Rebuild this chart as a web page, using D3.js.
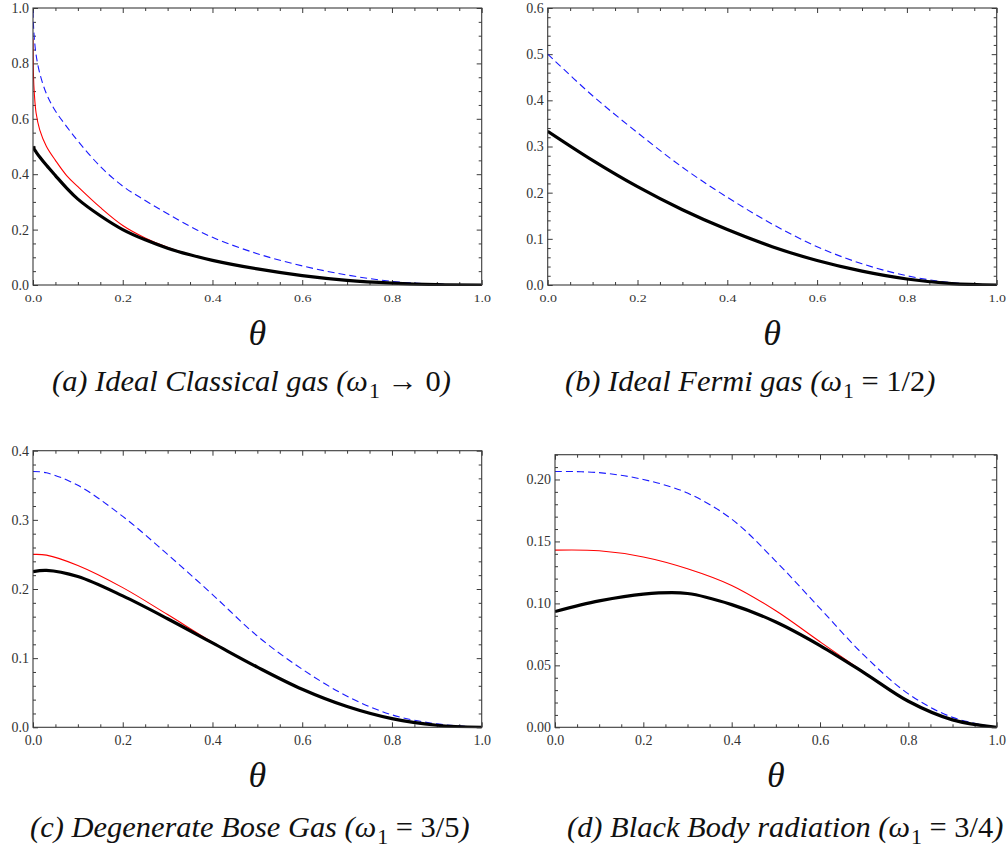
<!DOCTYPE html>
<html>
<head>
<meta charset="utf-8">
<script src="https://cdn.jsdelivr.net/npm/d3@7"></script>
</head>
<body style="margin:0">
<svg id="fig" width="1007" height="845"></svg>
<script>
// ---------- data (theta on x, one array per curve) ----------

// (a) ideal classical gas
const thetaA = [0, 0.001, 0.003, 0.007, 0.015, 0.03, 0.05, 0.075, 0.1, 0.15, 0.2, 0.25, 0.3, 0.35, 0.4, 0.5, 0.6, 0.7, 0.8, 0.9, 1.0];
const aLower = [0.5, 0.497, 0.49, 0.48, 0.462, 0.432, 0.395, 0.35, 0.31, 0.25, 0.2, 0.163, 0.133, 0.109, 0.089, 0.058, 0.034, 0.017, 0.007, 0.0015, 0];
const aMiddle = [0.89, 0.76, 0.69, 0.62, 0.56, 0.5, 0.45, 0.395, 0.355, 0.28, 0.215, 0.17, 0.136, 0.11, 0.089, 0.058, 0.034, 0.017, 0.007, 0.0015, 0];
const aUpper = [0.99, 0.94, 0.89, 0.83, 0.765, 0.69, 0.628, 0.572, 0.52, 0.428, 0.357, 0.305, 0.257, 0.212, 0.172, 0.113, 0.069, 0.036, 0.013, 0.003, 0];

// (b) ideal Fermi gas
const thetaB = [0, 0.1, 0.2, 0.3, 0.4, 0.5, 0.6, 0.7, 0.8, 0.9, 1.0];
const bLower = [0.333, 0.27, 0.213, 0.163, 0.12, 0.083, 0.053, 0.03, 0.013, 0.003, 0];
const bUpper = [0.5, 0.41, 0.33, 0.255, 0.19, 0.132, 0.083, 0.046, 0.02, 0.005, 0];

// (c) degenerate Bose gas
const thetaC = [0, 0.03, 0.1, 0.2, 0.3, 0.4, 0.5, 0.6, 0.7, 0.8, 0.9, 1.0];
const cLower = [0.225, 0.227, 0.218, 0.19, 0.157, 0.122, 0.087, 0.055, 0.03, 0.0125, 0.003, 0];
const cMiddle = [0.25, 0.249, 0.234, 0.202, 0.163, 0.123, 0.087, 0.055, 0.03, 0.0125, 0.003, 0];
const cUpper = [0.37, 0.368, 0.35, 0.305, 0.25, 0.192, 0.132, 0.084, 0.045, 0.018, 0.005, 0];

// (d) black body radiation
const thetaD = [0, 0.1, 0.2, 0.3, 0.4, 0.5, 0.6, 0.7, 0.8, 0.9, 1.0];
const dLower = [0.0934, 0.102, 0.1075, 0.108, 0.099, 0.085, 0.066, 0.044, 0.021, 0.006, 0];
const dMiddle = [0.143, 0.1425, 0.1375, 0.128, 0.1145, 0.094, 0.069, 0.0445, 0.021, 0.006, 0];
const dUpper = [0.2065, 0.2055, 0.2, 0.189, 0.168, 0.134, 0.096, 0.058, 0.027, 0.008, 0];

// axis tick values
const xMajorTicks = [0, 0.2, 0.4, 0.6, 0.8, 1.0];
const yMajorA = [0, 0.2, 0.4, 0.6, 0.8, 1.0];
const yMajorB = [0, 0.1, 0.2, 0.3, 0.4, 0.5, 0.6];
const yMajorC = [0, 0.1, 0.2, 0.3, 0.4];
const yMajorD = [0, 0.05, 0.10, 0.15, 0.20];

// captions: [text, kind] where kind is it (italic text), mi (math italic), sub (subscript), rm (upright)
const captionA = [["(a) Ideal Classical gas (", "it"], ["ω", "mi"], ["1", "sub"], [" → 0", "rm"], [")", "it"]];
const captionB = [["(b) Ideal Fermi gas (", "it"], ["ω", "mi"], ["1", "sub"], [" = 1/2", "rm"], [")", "it"]];
const captionC = [["(c) Degenerate Bose Gas (", "it"], ["ω", "mi"], ["1", "sub"], [" = 3/5", "rm"], [")", "it"]];
const captionD = [["(d) Black Body radiation (", "it"], ["ω", "mi"], ["1", "sub"], [" = 3/4", "rm"], [")", "it"]];
const axisTitle = "θ";

// ---------- layout ----------
const range = (a, b, s) => d3.range(Math.round(a / s), Math.round(b / s) + 1).map(i => +(i * s).toFixed(4));
const minorsOf = (all, majors) => all.filter(v => !majors.some(m => Math.abs(m - v) < 1e-9));

const panels = [
  { box: [33, 8, 481.7, 285], yMax: 1.0, yMajor: yMajorA, yMinor: range(0, 1.0, 0.05), yFmt: ".1f", squash: true,
    theta: thetaA, series: [["upper", aUpper], ["middle", aMiddle], ["lower", aLower]],
    caption: captionA, capX: 52, capY: 391, titleY: 345 },
  { box: [547.7, 8, 996.7, 285], yMax: 0.6, yMajor: yMajorB, yMinor: range(0, 0.6, 0.02), yFmt: ".1f", squash: true,
    theta: thetaB, series: [["upper", bUpper], ["lower", bLower]],
    caption: captionB, capX: 565, capY: 391, titleY: 345 },
  { box: [33, 450.7, 481.7, 727.3], yMax: 0.4, yMajor: yMajorC, yMinor: range(0, 0.4, 0.02), yFmt: ".1f", squash: false,
    theta: thetaC, series: [["upper", cUpper], ["middle", cMiddle], ["lower", cLower]],
    caption: captionC, capX: 30, capY: 837, titleY: 787 },
  { box: [555, 454.7, 996.7, 727.3], yMax: 0.22, yMajor: yMajorD, yMinor: range(0, 0.22, 0.01), yFmt: ".2f", squash: false,
    theta: thetaD, series: [["upper", dUpper], ["middle", dMiddle], ["lower", dLower]],
    caption: captionD, capX: 567, capY: 837, titleY: 787 }
];

const styles = {
  lower:  { stroke: "#000", width: 3.2, dash: null },
  middle: { stroke: "#ff0000", width: 1.1, dash: null },
  upper:  { stroke: "#1a1aff", width: 1.1, dash: "7,4" }
};

const frameColor = "#3a3a3a";
const svg = d3.select("#fig");

// put a text in the serif face used throughout the figure
function serif(sel, size, italic) {
  return sel.attr("font-family", "Liberation Serif")
    .style("font-family", "\"Liberation Serif\"")
    .style("font-size", size + "px")
    .style("font-style", italic ? "italic" : "normal");
}

function styleAxis(g) {
  g.attr("font-family", null).attr("font-size", null);
  g.select(".domain").remove();
  g.selectAll(".tick line").attr("stroke", frameColor).attr("stroke-width", 1);
  serif(g.selectAll("text"), 14, false).attr("fill", "#333");
}

panels.forEach((p, i) => {
  const [x0, y0, x1, y1] = p.box;
  const x = d3.scaleLinear().domain([0, 1]).range([x0, x1]);
  const y = d3.scaleLinear().domain([0, p.yMax]).range([y1, y0]);
  const g = svg.append("g").attr("class", "panel");

  const clipId = "clip" + i;
  g.append("clipPath").attr("id", clipId)
    .append("rect").attr("x", x0).attr("y", y0 - 2).attr("width", x1 - x0 + 1).attr("height", y1 - y0 + 3);

  const xMinor = minorsOf(range(0, 1, 0.05), xMajorTicks);
  const yMinor = minorsOf(p.yMinor, p.yMajor);

  // bottom axis with labels
  const gb = g.append("g").attr("transform", `translate(0,${y1})`)
    .call(d3.axisBottom(x).tickValues(xMajorTicks).tickSize(-5).tickFormat(d3.format(".1f")));
  styleAxis(gb);
  gb.selectAll("text").attr("y", 0).attr("dy", 0)
    .attr("transform", p.squash ? "translate(0,17) scale(1,0.72)" : "translate(0,18)");
  g.append("g").attr("transform", `translate(0,${y1})`)
    .call(d3.axisBottom(x).tickValues(xMinor).tickSize(-3).tickFormat("")).call(styleAxis);

  // top axis, ticks only
  g.append("g").attr("transform", `translate(0,${y0})`)
    .call(d3.axisTop(x).tickValues(xMajorTicks).tickSize(-5).tickFormat("")).call(styleAxis);
  g.append("g").attr("transform", `translate(0,${y0})`)
    .call(d3.axisTop(x).tickValues(xMinor).tickSize(-3).tickFormat("")).call(styleAxis);

  // left axis with labels
  const gl = g.append("g").attr("transform", `translate(${x0},0)`)
    .call(d3.axisLeft(y).tickValues(p.yMajor).tickSize(-5).tickPadding(4).tickFormat(d3.format(p.yFmt)));
  styleAxis(gl);
  g.append("g").attr("transform", `translate(${x0},0)`)
    .call(d3.axisLeft(y).tickValues(yMinor).tickSize(-3).tickFormat("")).call(styleAxis);

  // right axis, ticks only
  g.append("g").attr("transform", `translate(${x1},0)`)
    .call(d3.axisRight(y).tickValues(p.yMajor).tickSize(-5).tickFormat("")).call(styleAxis);
  g.append("g").attr("transform", `translate(${x1},0)`)
    .call(d3.axisRight(y).tickValues(yMinor).tickSize(-3).tickFormat("")).call(styleAxis);

  // curves
  const line = d3.line().x(d => x(d[0])).y(d => y(d[1])).curve(d3.curveCatmullRom.alpha(0.5));
  const curves = g.append("g").attr("clip-path", `url(#${clipId})`);
  p.series.forEach(([kind, values]) => {
    const s = styles[kind];
    curves.append("path")
      .datum(p.theta.map((t, k) => [t, values[k]]))
      .attr("d", line)
      .attr("fill", "none")
      .attr("stroke", s.stroke)
      .attr("stroke-width", s.width)
      .attr("stroke-dasharray", s.dash)
      .attr("stroke-linejoin", "round");
  });

  // frame
  g.append("rect").attr("x", x0).attr("y", y0).attr("width", x1 - x0).attr("height", y1 - y0)
    .attr("fill", "none").attr("stroke", frameColor).attr("stroke-width", 1.1);

  // axis title
  serif(g.append("text"), 36, true)
    .attr("x", (x0 + x1) / 2).attr("y", p.titleY)
    .attr("text-anchor", "middle")
    .attr("fill", "#111").text(axisTitle);
});

// captions
function drawCaption(parts, xPos, yPos, size) {
  const t = serif(svg.append("text"), size, false).attr("x", xPos).attr("y", yPos).attr("fill", "#111");
  parts.forEach(([txt, kind]) => {
    const ts = t.append("tspan").text(txt);
    ts.style("font-style", (kind === "it" || kind === "mi") ? "italic" : "normal");
    if (kind === "sub") ts.style("font-size", (size * 0.72) + "px").attr("dy", size * 0.22).attr("dx", 1);
    if (kind === "rm") ts.attr("dy", -size * 0.22);
  });
  return t;
}

// caption size chosen so caption (a) spans 398px
const probe = drawCaption(captionA, 0, -100, 25);
const capSize = 25 * 398 / probe.node().getComputedTextLength();
probe.remove();

panels.forEach(p => {
  drawCaption(p.caption, p.capX, p.capY, capSize);
});
</script>
</body>
</html>
